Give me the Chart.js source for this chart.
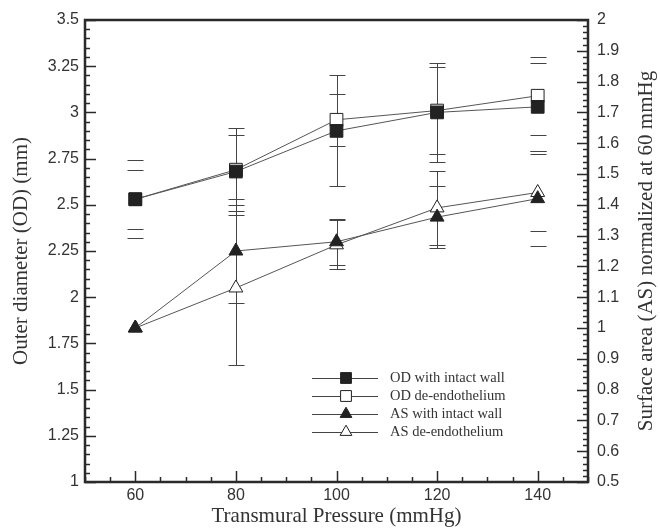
<!DOCTYPE html>
<html>
<head>
<meta charset="utf-8">
<script src="https://cdn.jsdelivr.net/npm/chart.js@4.4.1/dist/chart.umd.min.js"></script>
<style>
html, body { margin: 0; padding: 0; background: #fff; }
#wrap { width: 660px; height: 529px; }
</style>
</head>
<body>
<div id="wrap"><canvas id="myChart"></canvas></div>
<script>
// transmural pressure (mmHg)
const pressure = [60, 80, 100, 120, 140];

// outer diameter (mm), left axis
const odIntact = [2.53, 2.68, 2.90, 3.00, 3.03];
const odIntactErr = [0.21, 0.235, 0.30, 0.27, 0.24];
const odDeendo = [2.53, 2.69, 2.96, 3.01, 3.09];
const odDeendoErr = [0.16, 0.19, 0.14, 0.235, 0.21];

// surface area normalized at 60 mmHg, right axis
const asIntact = [1.00, 1.25, 1.28, 1.36, 1.42];
const asIntactErr = [0, 0.17, 0.075, 0.10, 0.155];
const asDeendo = [1.00, 1.13, 1.27, 1.39, 1.44];
const asDeendoErr = [0, 0.25, 0.08, 0.12, 0.125];

const seriesNames = ['OD with intact wall', 'OD de-endothelium', 'AS with intact wall', 'AS de-endothelium'];
const xTicks = [60, 80, 100, 120, 140];
const odTicks = [1, 1.25, 1.5, 1.75, 2, 2.25, 2.5, 2.75, 3, 3.25, 3.5];
const asTicks = [0.5, 0.6, 0.7, 0.8, 0.9, 1, 1.1, 1.2, 1.3, 1.4, 1.5, 1.6, 1.7, 1.8, 1.9, 2];

const errs = [odIntactErr, odDeendoErr, asIntactErr, asDeendoErr];
const ink = '#2a2a2a';

const frame = {
    id: 'frame',
    beforeDatasetsDraw(chart) {
        const ctx = chart.ctx;
        const x = chart.scales.x;
        ctx.save();
        ctx.strokeStyle = '#444';
        ctx.lineWidth = 1;
        chart.data.datasets.forEach(function (ds, di) {
            const ys = chart.scales[ds.yAxisID];
            ds.data.forEach(function (p, i) {
                const e = errs[di][i];
                if (!e) return;
                const px = Math.round(x.getPixelForValue(p.x)) + 0.5;
                const hi = Math.round(ys.getPixelForValue(p.y + e)) + 0.5;
                const lo = Math.round(ys.getPixelForValue(p.y - e)) + 0.5;
                ctx.beginPath();
                if (i > 0 && i < pressure.length - 1) {
                    ctx.moveTo(px, hi);
                    ctx.lineTo(px, lo);
                }
                ctx.moveTo(px - 8, hi); ctx.lineTo(px + 8, hi);
                ctx.moveTo(px - 8, lo); ctx.lineTo(px + 8, lo);
                ctx.stroke();
            });
        });
        ctx.restore();
    },
    afterDatasetsDraw(chart) {
        const ctx = chart.ctx;
        const a = chart.chartArea;
        const x = chart.scales.x, y = chart.scales.y, y1 = chart.scales.y1;
        ctx.save();
        ctx.strokeStyle = ink;
        ctx.lineWidth = 1.5;
        ctx.beginPath();
        for (let v = 50; v <= 150; v += 5) {
            const px = Math.round(x.getPixelForValue(v)) + 0.5;
            const len = v % 20 === 0 ? 11 : 5;
            ctx.moveTo(px, a.bottom); ctx.lineTo(px, a.bottom - len);
        }
        for (let k = 0; k <= 50; k++) {
            const py = Math.round(y.getPixelForValue(1 + k * 0.05)) + 0.5;
            const len = k % 5 === 0 ? 11 : 5;
            ctx.moveTo(a.left, py); ctx.lineTo(a.left + len, py);
        }
        for (let k = 0; k <= 75; k++) {
            const py = Math.round(y1.getPixelForValue(0.5 + k * 0.02)) + 0.5;
            const len = k % 5 === 0 ? 11 : 5;
            ctx.moveTo(a.right, py); ctx.lineTo(a.right - len, py);
        }
        ctx.stroke();

        ctx.lineWidth = 2.5;
        ctx.strokeRect(a.left, a.top, a.right - a.left, a.bottom - a.top);

        // right axis title, reading bottom to top
        ctx.fillStyle = '#333';
        ctx.font = '21px "Liberation Serif"';
        ctx.textAlign = 'center';
        ctx.textBaseline = 'middle';
        ctx.translate(646, (a.top + a.bottom) / 2);
        ctx.rotate(-Math.PI / 2);
        ctx.fillText('Surface area (AS) normalized at 60 mmHg', 0, 0);
        ctx.restore();

        // legend
        ctx.save();
        chart.data.datasets.forEach(function (ds, i) {
            const ly = 378 + i * 18;
            ctx.strokeStyle = '#444';
            ctx.lineWidth = 1;
            ctx.beginPath();
            ctx.moveTo(312, ly + 0.5); ctx.lineTo(378, ly + 0.5);
            ctx.stroke();
            ctx.fillStyle = ds.pointBackgroundColor;
            ctx.strokeStyle = ds.pointBorderColor;
            Chart.helpers.drawPoint(ctx, {
                pointStyle: ds.pointStyle,
                radius: ds.pointRadius * 0.85,
                rotation: 0,
                borderWidth: 1
            }, 346, ly);
            ctx.fillStyle = '#333';
            ctx.font = '14.5px "Liberation Serif"';
            ctx.textAlign = 'left';
            ctx.textBaseline = 'middle';
            ctx.fillText(seriesNames[i], 390, ly);
        });
        ctx.restore();
    }
};

function setTicks(vals) {
    return function (scale) {
        scale.ticks = vals.map(function (v) { return { value: v }; });
    };
}

function plain(v) {
    return String(Math.round(v * 100) / 100);
}

function series(label, values, axis, style, fill, radius) {
    return {
        label: label,
        data: values.map(function (v, i) { return { x: pressure[i], y: v }; }),
        yAxisID: axis,
        borderColor: '#555',
        borderWidth: 1,
        pointStyle: style,
        pointRadius: radius,
        pointBackgroundColor: fill,
        pointBorderColor: '#222',
        pointBorderWidth: 1,
        tension: 0
    };
}

const tickFont = { family: '"Liberation Sans"', size: 16 };
const titleFont = { family: '"Liberation Serif"', size: 21 };

new Chart(document.getElementById('myChart'), {
    type: 'line',
    data: {
        datasets: [
            series(seriesNames[0], odIntact, 'y', 'rect', '#222', 9),
            series(seriesNames[1], odDeendo, 'y', 'rect', '#fff', 9),
            series(seriesNames[2], asIntact, 'y1', 'triangle', '#222', 8),
            series(seriesNames[3], asDeendo, 'y1', 'triangle', '#fff', 8)
        ]
    },
    options: {
        responsive: true,
        maintainAspectRatio: false,
        animation: false,
        layout: { padding: { top: 20, left: 0, right: 0, bottom: 0 } },
        plugins: {
            legend: { display: false },
            tooltip: { enabled: false }
        },
        scales: {
            x: {
                type: 'linear',
                min: 50,
                max: 150,
                afterBuildTicks: setTicks(xTicks),
                afterFit: function (s) { s.height = 47; },
                grid: { display: false, drawTicks: false },
                border: { display: false },
                ticks: { color: '#333', font: tickFont, padding: 4, callback: plain },
                title: { display: true, text: 'Transmural Pressure (mmHg)', color: '#333', font: titleFont, padding: { top: 0, bottom: 0 } }
            },
            y: {
                position: 'left',
                min: 1,
                max: 3.5,
                afterBuildTicks: setTicks(odTicks),
                afterFit: function (s) { s.width = 85; },
                grid: { display: false, drawTicks: false },
                border: { display: false },
                ticks: { color: '#333', font: tickFont, padding: 6, callback: plain },
                title: { display: true, text: 'Outer diameter (OD) (mm)', color: '#333', font: titleFont, padding: { top: 9, bottom: 0 } }
            },
            y1: {
                position: 'right',
                min: 0.5,
                max: 2,
                afterBuildTicks: setTicks(asTicks),
                afterFit: function (s) { s.width = 72; },
                grid: { display: false, drawTicks: false },
                border: { display: false },
                ticks: { color: '#333', font: tickFont, padding: 9, callback: plain }
            }
        }
    },
    plugins: [frame]
});
</script>
</body>
</html>
